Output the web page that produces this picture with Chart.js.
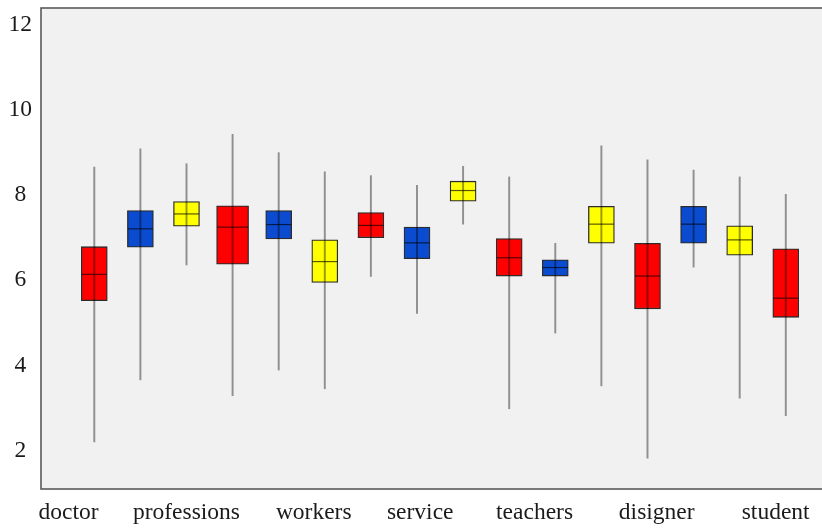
<!DOCTYPE html>
<html>
<head>
<meta charset="utf-8">
<script src="https://cdn.jsdelivr.net/npm/chart.js@4/dist/chart.umd.min.js"></script>
<style>
  html, body { margin: 0; padding: 0; background: #ffffff; overflow: hidden; }
  canvas { display: block; }
</style>
</head>
<body>
<canvas id="chart" width="830" height="528"></canvas>
<script>
// Axis labels along the bottom and the axis values they sit at
const LABELS = ['doctor', 'professions', 'workers', 'service', 'teachers', 'disigner', 'student'];
const LABEL_TICKS = [-0.56, 2.0, 4.76, 7.07, 9.55, 12.2, 14.78];
const Y_TICKS = [2, 4, 6, 8, 10, 12];

// Box statistics, one entry per box from left to right
const LOWS    = [2.20, 3.66, 6.36, 3.29, 3.89, 3.45, 6.09, 5.22, 7.32, 2.98, 4.76, 3.52, 1.82, 6.31, 3.23, 2.82];
const Q1      = [5.52, 6.78, 7.27, 6.38, 6.97, 5.95, 7.00, 6.51, 7.86, 6.10, 6.10, 6.87, 5.33, 6.87, 6.59, 5.13];
const MEDIANS = [6.14, 7.21, 7.56, 7.25, 7.31, 6.44, 7.29, 6.88, 8.11, 6.53, 6.30, 7.32, 6.10, 7.32, 6.95, 5.58];
const Q3      = [6.79, 7.64, 7.85, 7.75, 7.64, 6.95, 7.59, 7.25, 8.33, 6.98, 6.48, 7.74, 6.87, 7.74, 7.28, 6.74];
const HIGHS   = [8.66, 9.09, 8.74, 9.43, 9.00, 8.55, 8.46, 8.23, 8.68, 8.43, 6.87, 9.16, 8.83, 8.59, 8.43, 8.02];

const PALETTE = ['#ff0000', '#0b4bd0', '#ffff00'];
const BOX_W = 26;
const WIDE_BOX = 3;       // this box is drawn wider
const WIDE_W = 32;

const idx = LOWS.map((_, i) => i);
const colorOf = i => PALETTE[i % PALETTE.length];

const normal = idx.filter(i => i !== WIDE_BOX);
const boxesNormal = normal.map(i => ({ x: i, y: [Q1[i], Q3[i]] }));
const boxesWide = [{ x: WIDE_BOX, y: [Q1[WIDE_BOX], Q3[WIDE_BOX]] }];
const whiskers = idx.map(i => ({ x: i, y: [LOWS[i], HIGHS[i]] }));
const medians = idx.map(i => ({ x: i, y: MEDIANS[i] }));

const plotFrame = {
  id: 'plotFrame',
  beforeDraw(chart) {
    const { ctx, chartArea: a } = chart;
    ctx.save();
    ctx.fillStyle = '#f1f1f1';
    ctx.fillRect(a.left, a.top, a.right - a.left, a.bottom - a.top);
    ctx.restore();
  },
  afterDraw(chart) {
    const { ctx, chartArea: a } = chart;
    ctx.save();
    ctx.strokeStyle = '#5a5a5a';
    ctx.lineWidth = 1.6;
    ctx.strokeRect(a.left, a.top, a.right - a.left, a.bottom - a.top);
    ctx.restore();
  }
};

// keep the plot area edges where the layout puts them, without label overhang
const noOverhang = s => {
  s.paddingTop = 0; s.paddingBottom = 0; s.paddingLeft = 0; s.paddingRight = 0;
};

const barCommon = {
  type: 'bar',
  grouped: false,
  borderColor: 'rgba(0,0,0,0.82)',
  borderWidth: 1.3,
  borderSkipped: false
};

new Chart(document.getElementById('chart'), {
  type: 'bar',
  data: {
    datasets: [
      Object.assign({}, barCommon, {
        data: boxesNormal,
        barThickness: BOX_W,
        backgroundColor: normal.map(colorOf),
        order: 3
      }),
      Object.assign({}, barCommon, {
        data: boxesWide,
        barThickness: WIDE_W,
        backgroundColor: [colorOf(WIDE_BOX)],
        order: 3
      }),
      {
        type: 'bar',
        grouped: false,
        data: whiskers,
        barThickness: 1.3,
        backgroundColor: 'rgba(0,0,0,0.4)',
        borderWidth: 0,
        order: 1
      },
      {
        type: 'line',
        data: medians,
        showLine: false,
        pointStyle: 'line',
        pointRadius: c => (c.dataIndex === WIDE_BOX ? WIDE_W / 2 : BOX_W / 2) - 0.5,
        pointHoverRadius: c => (c.dataIndex === WIDE_BOX ? WIDE_W / 2 : BOX_W / 2) - 0.5,
        pointBorderColor: 'rgba(0,0,0,0.65)',
        pointBorderWidth: 1.2,
        order: 0
      }
    ]
  },
  options: {
    responsive: false,
    animation: false,
    layout: { autoPadding: false, padding: { top: 8, left: 0, right: 0, bottom: 0 } },
    plugins: { legend: { display: false }, tooltip: { enabled: false } },
    scales: {
      x: {
        type: 'linear',
        min: -1.156,
        max: 15.959,
        offset: false,
        grid: { display: false, drawTicks: false },
        border: { display: false },
        afterBuildTicks: s => { s.ticks = LABEL_TICKS.map(v => ({ value: v })); },
        afterFit: s => { s.height = 39; noOverhang(s); },
        ticks: {
          autoSkip: false,
          maxRotation: 0,
          padding: 10,
          color: '#1a1a1a',
          font: { family: '"Liberation Serif", "DejaVu Serif", serif', size: 23.5 },
          callback: (v, i) => LABELS[i]
        }
      },
      y: {
        type: 'linear',
        min: 1.095,
        max: 12.40,
        grid: { display: false, drawTicks: false },
        border: { display: false },
        afterBuildTicks: s => { s.ticks = Y_TICKS.map(v => ({ value: v })); },
        afterFit: s => { s.width = 41; noOverhang(s); },
        ticks: {
          crossAlign: 'center',
          padding: 9,
          color: '#1a1a1a',
          font: { family: '"Liberation Serif", "DejaVu Serif", serif', size: 23.5 }
        }
      }
    }
  },
  plugins: [plotFrame]
});
</script>
</body>
</html>
